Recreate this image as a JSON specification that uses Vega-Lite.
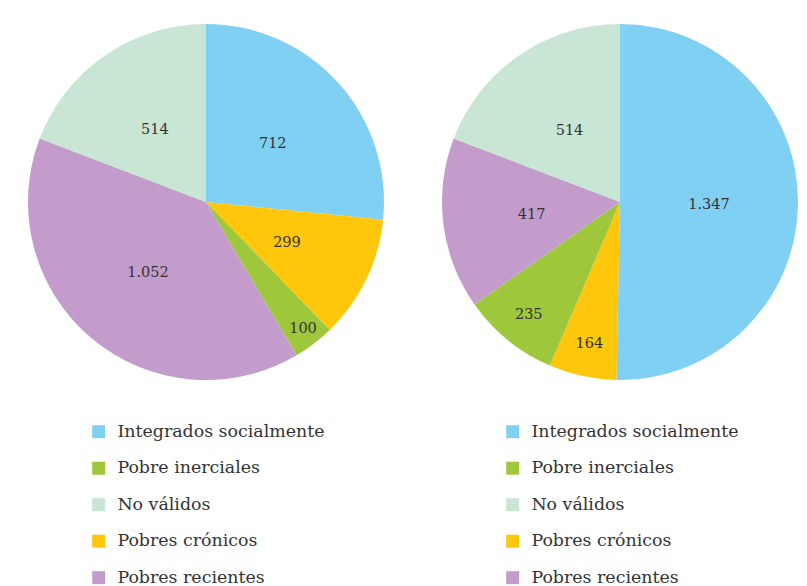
{
  "$schema": "https://vega.github.io/schema/vega-lite/v6.json",
  "padding": 0,
  "background": "white",
  "datasets": {
    "izq": [
      {"grupo": "Integrados socialmente", "valor": 712, "etiqueta": "712", "orden": 1},
      {"grupo": "Pobres crónicos", "valor": 299, "etiqueta": "299", "orden": 2},
      {"grupo": "Pobre inerciales", "valor": 100, "etiqueta": "100", "orden": 3},
      {"grupo": "Pobres recientes", "valor": 1052, "etiqueta": "1.052", "orden": 4},
      {"grupo": "No válidos", "valor": 514, "etiqueta": "514", "orden": 5}
    ],
    "der": [
      {"grupo": "Integrados socialmente", "valor": 1347, "etiqueta": "1.347", "orden": 1},
      {"grupo": "Pobres crónicos", "valor": 164, "etiqueta": "164", "orden": 2},
      {"grupo": "Pobre inerciales", "valor": 235, "etiqueta": "235", "orden": 3},
      {"grupo": "Pobres recientes", "valor": 417, "etiqueta": "417", "orden": 4},
      {"grupo": "No válidos", "valor": 514, "etiqueta": "514", "orden": 5}
    ]
  },
  "spacing": 2,
  "resolve": {"legend": {"color": "independent"}},
  "hconcat": [
    {
      "width": 412,
      "height": 404,
      "data": {"name": "izq"},
      "encoding": {
        "theta": {"field": "valor", "type": "quantitative", "stack": true},
        "order": {"field": "orden", "type": "quantitative"},
        "color": {
          "field": "grupo", "type": "nominal",
          "scale": {
            "domain": ["Integrados socialmente", "Pobre inerciales", "No válidos", "Pobres crónicos", "Pobres recientes"],
            "range": ["#80d0f4", "#9ec73b", "#c9e5d3", "#fec70b", "#c39ccb"]
          },
          "legend": {"orient": "none", "legendX": 90, "legendY": 423, "title": null}
        }
      },
      "layer": [
        {"mark": {"type": "arc", "radius": 178, "stroke": null}},
        {
          "mark": {"type": "text", "radius": 90, "font": "DejaVu Serif", "fontSize": 14.5, "fill": "#333333", "dy": 2},
          "encoding": {
            "text": {"condition": {"test": "datum.valor >= 250", "field": "etiqueta"}, "value": ""},
            "color": {"value": "#333333"}
          }
        },
        {
          "mark": {"type": "text", "radius": 160, "font": "DejaVu Serif", "fontSize": 14.5, "fill": "#333333"},
          "encoding": {
            "text": {"condition": {"test": "datum.valor < 250", "field": "etiqueta"}, "value": ""},
            "color": {"value": "#333333"}
          }
        }
      ]
    },
    {
      "width": 412,
      "height": 404,
      "data": {"name": "der"},
      "encoding": {
        "theta": {"field": "valor", "type": "quantitative", "stack": true},
        "order": {"field": "orden", "type": "quantitative"},
        "color": {
          "field": "grupo", "type": "nominal",
          "scale": {
            "domain": ["Integrados socialmente", "Pobre inerciales", "No válidos", "Pobres crónicos", "Pobres recientes"],
            "range": ["#80d0f4", "#9ec73b", "#c9e5d3", "#fec70b", "#c39ccb"]
          },
          "legend": {"orient": "none", "legendX": 90, "legendY": 423, "title": null}
        }
      },
      "layer": [
        {"mark": {"type": "arc", "radius": 178, "stroke": null}},
        {
          "mark": {"type": "text", "radius": 89, "font": "DejaVu Serif", "fontSize": 14.5, "fill": "#333333", "dy": 2},
          "encoding": {
            "text": {"condition": {"test": "datum.valor >= 250", "field": "etiqueta"}, "value": ""},
            "color": {"value": "#333333"}
          }
        },
        {
          "mark": {"type": "text", "radius": 145, "font": "DejaVu Serif", "fontSize": 14.5, "fill": "#333333"},
          "encoding": {
            "text": {"condition": {"test": "datum.valor < 250", "field": "etiqueta"}, "value": ""},
            "color": {"value": "#333333"}
          }
        }
      ]
    }
  ],
  "config": {
    "view": {"stroke": null},
    "legend": {
      "labelFont": "DejaVu Serif",
      "labelFontSize": 17.4,
      "labelColor": "#333333",
      "symbolType": "square",
      "symbolSize": 169,
      "symbolStrokeWidth": 0,
      "rowPadding": 17.5,
      "padding": 0,
      "labelOffset": 10,
      "labelLimit": 400
    }
  }
}
